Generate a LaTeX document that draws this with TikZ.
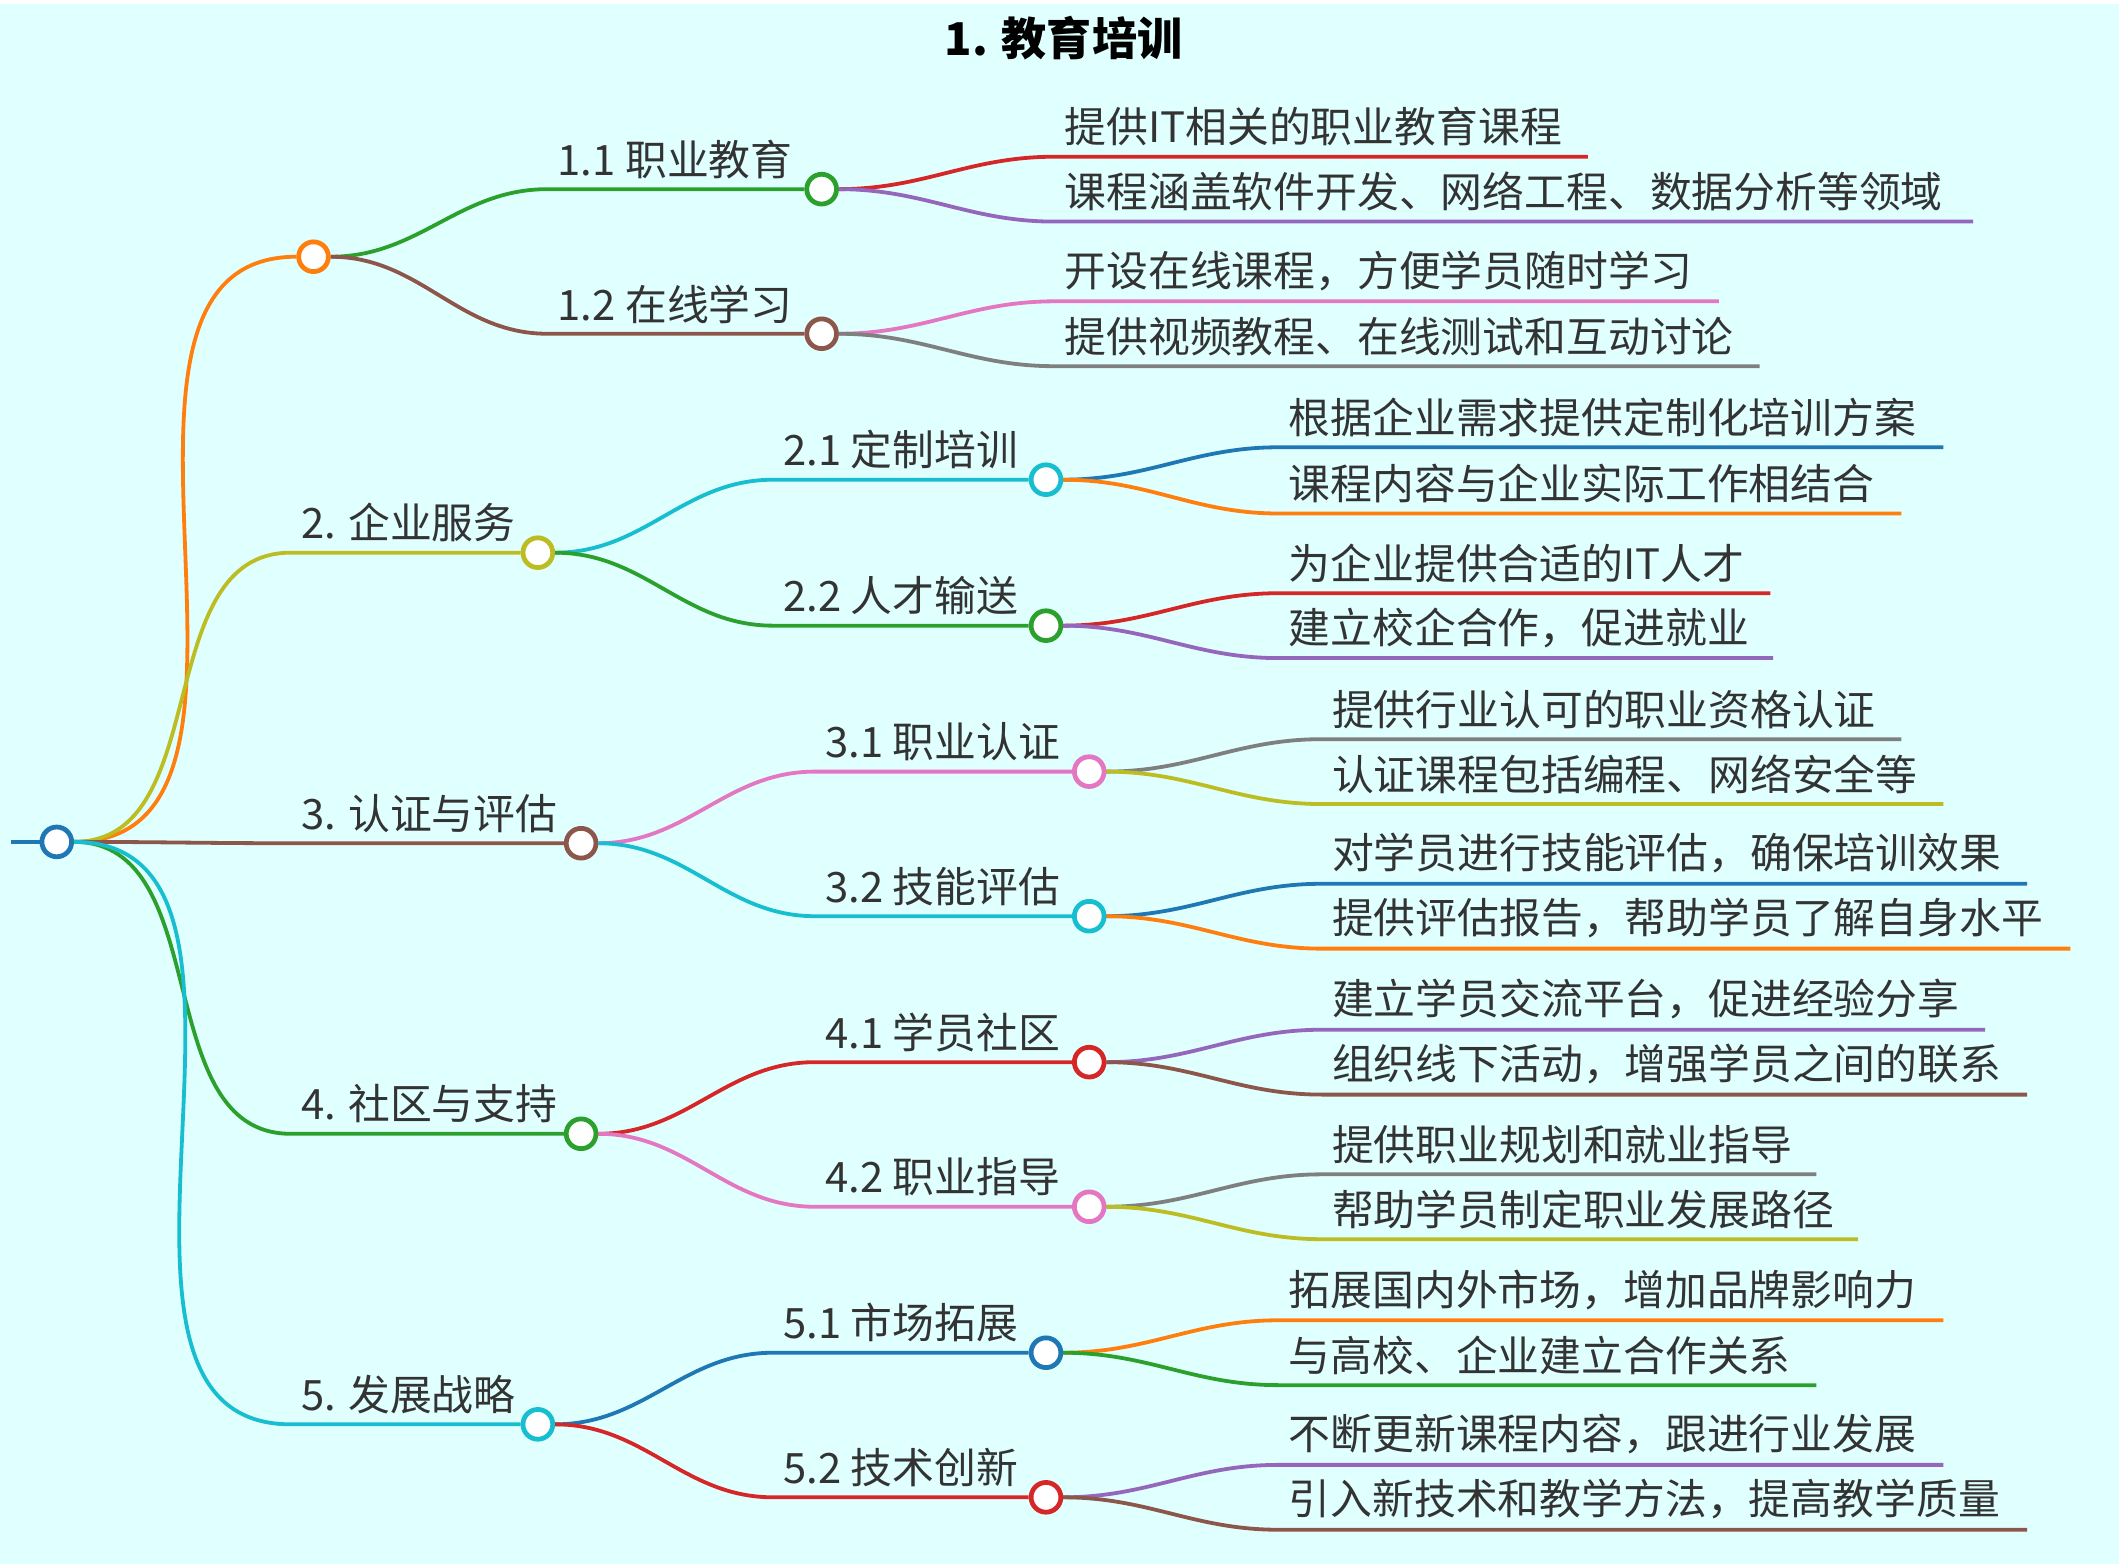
\documentclass[tikz,border=0pt]{standalone}
\usepackage{fontspec}
\setmainfont{Noto Sans CJK SC}
\usetikzlibrary{positioning}
\definecolor{bgcyan}{RGB}{224,255,255}
\definecolor{textgray}{RGB}{51,51,51}
\definecolor{cblue}{RGB}{31,119,180}
\definecolor{corange}{RGB}{255,127,14}
\definecolor{cgreen}{RGB}{44,160,44}
\definecolor{cred}{RGB}{214,39,40}
\definecolor{cpurple}{RGB}{148,103,189}
\definecolor{cbrown}{RGB}{140,86,75}
\definecolor{cpink}{RGB}{227,119,194}
\definecolor{cgray}{RGB}{127,127,127}
\definecolor{colive}{RGB}{188,189,34}
\definecolor{ccyan}{RGB}{23,190,207}
\tikzset{
  dot/.style={circle,draw,fill=white,line width=1pt,minimum size=0.22cm,inner sep=0pt},
  branch/.style={line width=0.8pt},
  lbl/.style={anchor=south west,inner sep=2pt,text=textgray,font=\fontsize{8.8}{10}\selectfont}
}
% parent, name, line start x, circle x, y, colour, text
\newcommand\branch[7]{%
  \node[dot,draw=#6] (#2) at (#4,#5) {};
  \coordinate (#2-s) at (#3,#5);
  \draw[branch,#6] (#1.east) to[out=0,in=180] (#2-s) -- (#2.west);
  \node[lbl] (#2-t) at (#2-s) {#7};}
% parent, name, line start x, line end x, y, colour, text
\newcommand\leaf[7]{%
  \coordinate (#2-s) at (#3,#5);
  \coordinate (#2-e) at (#4,#5);
  \draw[branch,#6] (#1.east) to[out=0,in=180] (#2-s) -- (#2-e);
  \node[lbl] (#2-t) at (#2-s) {#7};}
\begin{document}
\begin{tikzpicture}[x=0.01cm,y=-0.01cm]
\fill[bgcyan] (0,0) rectangle (1568,1154);
\node[text=black,font=\bfseries\fontsize{9.5}{11}\selectfont] (title) at (787,25) {1. 教育培训};

% root
\node[dot,draw=cblue] (root) at (42,620) {};
\coordinate (rootin) at (8,620);
\draw[branch,cblue] (rootin) -- (root.west);

% first level
\node[dot,draw=corange] (b1) at (232,187) {};
\draw[branch,corange] (root.east) to[out=0,in=180] (b1.west);
\branch{root}{b2}{215}{398}{406}{colive}{2. 企业服务}
\branch{root}{b3}{215}{430}{621}{cbrown}{3. 认证与评估}
\branch{root}{b4}{215}{430}{836}{cgreen}{4. 社区与支持}
\branch{root}{b5}{215}{398}{1051}{ccyan}{5. 发展战略}

% second level
\branch{b1}{b11}{405}{608}{137}{cgreen}{1.1 职业教育}
\branch{b1}{b12}{405}{608}{244}{cbrown}{1.2 在线学习}
\branch{b2}{b21}{572}{774}{352}{ccyan}{2.1 定制培训}
\branch{b2}{b22}{572}{774}{460}{cgreen}{2.2 人才输送}
\branch{b3}{b31}{603}{806}{568}{cpink}{3.1 职业认证}
\branch{b3}{b32}{603}{806}{675}{ccyan}{3.2 技能评估}
\branch{b4}{b41}{603}{806}{783}{cred}{4.1 学员社区}
\branch{b4}{b42}{603}{806}{890}{cpink}{4.2 职业指导}
\branch{b5}{b51}{572}{774}{998}{cblue}{5.1 市场拓展}
\branch{b5}{b52}{572}{774}{1105}{cred}{5.2 技术创新}

% leaves
\leaf{b11}{l111}{780}{1175}{113}{cred}{提供IT相关的职业教育课程}
\leaf{b11}{l112}{780}{1460}{161}{cpurple}{课程涵盖软件开发、网络工程、数据分析等领域}
\leaf{b12}{l121}{780}{1272}{220}{cpink}{开设在线课程，方便学员随时学习}
\leaf{b12}{l122}{780}{1302}{268}{cgray}{提供视频教程、在线测试和互动讨论}
\leaf{b21}{l211}{946}{1438}{328}{cblue}{根据企业需求提供定制化培训方案}
\leaf{b21}{l212}{946}{1407}{377}{corange}{课程内容与企业实际工作相结合}
\leaf{b22}{l221}{946}{1310}{436}{cred}{为企业提供合适的IT人才}
\leaf{b22}{l222}{946}{1312}{484}{cpurple}{建立校企合作，促进就业}
\leaf{b31}{l311}{978}{1407}{544}{cgray}{提供行业认可的职业资格认证}
\leaf{b31}{l312}{978}{1438}{592}{colive}{认证课程包括编程、网络安全等}
\leaf{b32}{l321}{978}{1500}{651}{cblue}{对学员进行技能评估，确保培训效果}
\leaf{b32}{l322}{978}{1532}{699}{corange}{提供评估报告，帮助学员了解自身水平}
\leaf{b41}{l411}{978}{1469}{759}{cpurple}{建立学员交流平台，促进经验分享}
\leaf{b41}{l412}{978}{1500}{807}{cbrown}{组织线下活动，增强学员之间的联系}
\leaf{b42}{l421}{978}{1344}{866}{cgray}{提供职业规划和就业指导}
\leaf{b42}{l422}{978}{1375}{914}{colive}{帮助学员制定职业发展路径}
\leaf{b51}{l511}{946}{1438}{974}{corange}{拓展国内外市场，增加品牌影响力}
\leaf{b51}{l512}{946}{1344}{1022}{cgreen}{与高校、企业建立合作关系}
\leaf{b52}{l521}{946}{1438}{1081}{cpurple}{不断更新课程内容，跟进行业发展}
\leaf{b52}{l522}{946}{1500}{1129}{cbrown}{引入新技术和教学方法，提高教学质量}
\end{tikzpicture}
\end{document}
